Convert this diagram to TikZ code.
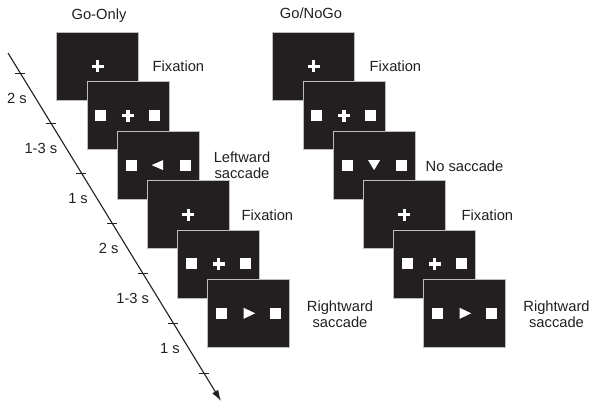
\documentclass[tikz,border=0pt]{standalone}
\usepackage{fontspec}
\setmainfont{Liberation Sans}
\usetikzlibrary{arrows.meta}
\definecolor{scr}{HTML}{231F20}
\definecolor{scrline}{HTML}{BDBDBD}
\definecolor{ink}{HTML}{231F20}
\tikzset{
  screen/.style={rectangle, fill=scr, draw=scrline, line width=0.8pt,
    minimum width=82pt, minimum height=68pt, inner sep=0pt},
  lab/.style={inner sep=0pt, text=ink, font=\fontsize{14.7}{16}\selectfont, align=center},
  tlab/.style={inner sep=0pt, text=ink, font=\fontsize{14.7}{16}\selectfont, anchor=east},
  fixcross/.pic={\fill[white] (-6,-1.7) rectangle (6,1.7); \fill[white] (-1.7,-6) rectangle (1.7,6);},
  twosq/.pic={\fill[white] (-32.5,-5.5) rectangle (-21.5,5.5); \fill[white] (21.5,-5.5) rectangle (32.5,5.5);},
  triL/.pic={\fill[white] (-6.5,0) -- (5,-5) -- (5,5) -- cycle;},
  triR/.pic={\fill[white] (-5,-5.5) -- (-5,5.5) -- (6.5,0) -- cycle;},
  triD/.pic={\fill[white] (-6,-5) -- (6,-5) -- (0,5) -- cycle;},
}
\begin{document}
\begin{tikzpicture}[x=1pt,y=-1pt]
\useasboundingbox (0,0) rectangle (600,402);
% titles
\node[lab, anchor=base] (t1) at (99,19) {Go-Only};
\node[lab, anchor=base] (t2) at (311,18) {Go/NoGo};
% left column
\node[screen] (L1) at (97.7,66.3) {};
\pic at (L1.center) {fixcross};
\node[screen] (L2) at (127.9,115.7) {};
\pic at (L2.center) {twosq}; \pic at (L2.center) {fixcross};
\node[screen] (L3) at (158.1,165.1) {};
\pic at (L3.center) {twosq}; \pic at (L3.center) {triL};
\node[screen] (L4) at (188.3,214.5) {};
\pic at (L4.center) {fixcross};
\node[screen] (L5) at (218.5,263.9) {};
\pic at (L5.center) {twosq}; \pic at (L5.center) {fixcross};
\node[screen] (L6) at (248.7,313.3) {};
\pic at (L6.center) {twosq}; \pic at (L6.center) {triR};
% right column
\node[screen] (R1) at (313.7,66.3) {};
\pic at (R1.center) {fixcross};
\node[screen] (R2) at (343.9,115.7) {};
\pic at (R2.center) {twosq}; \pic at (R2.center) {fixcross};
\node[screen] (R3) at (374.1,165.1) {};
\pic at (R3.center) {twosq}; \pic at (R3.center) {triD};
\node[screen] (R4) at (404.3,214.5) {};
\pic at (R4.center) {fixcross};
\node[screen] (R5) at (434.5,263.9) {};
\pic at (R5.center) {twosq}; \pic at (R5.center) {fixcross};
\node[screen] (R6) at (464.7,313.3) {};
\pic at (R6.center) {twosq}; \pic at (R6.center) {triR};
% labels
\node[lab, anchor=west] (la1) at (152.5,66) {Fixation};
\node[lab] (la2) at (242,165) {Leftward\\saccade};
\node[lab, anchor=west] (la3) at (241.5,215) {Fixation};
\node[lab] (la4) at (340,314) {Rightward\\saccade};
\node[lab, anchor=west] (ra1) at (369.5,66) {Fixation};
\node[lab, anchor=west] (ra2) at (425.5,166) {No saccade};
\node[lab, anchor=west] (ra3) at (461.5,215) {Fixation};
\node[lab] (ra4) at (556.5,314) {Rightward\\saccade};
% timeline
\coordinate (a0) at (8,53);
\coordinate (a1) at (221,401);
\draw[ink, line width=1.1pt, -{Latex[length=11pt,width=7pt]}] (a0) -- (a1);
\foreach \k in {0,...,6}{
  \pgfmathsetmacro\yy{73+50*\k}
  \pgfmathsetmacro\xx{8+0.6121*(\yy-53)}
  \draw[ink, line width=0.9pt] (\xx-5,\yy) -- (\xx+5,\yy);
}
\foreach \k/\txt in {0/2 s,1/1-3 s,2/1 s,3/2 s,4/1-3 s,5/1 s}{
  \pgfmathsetmacro\yy{98.5+50*\k}
  \pgfmathsetmacro\xx{8+0.6121*(\yy-53)-9}
  \node[tlab] (tl\k) at (\xx,\yy) {\txt};
}
\end{tikzpicture}
\end{document}
